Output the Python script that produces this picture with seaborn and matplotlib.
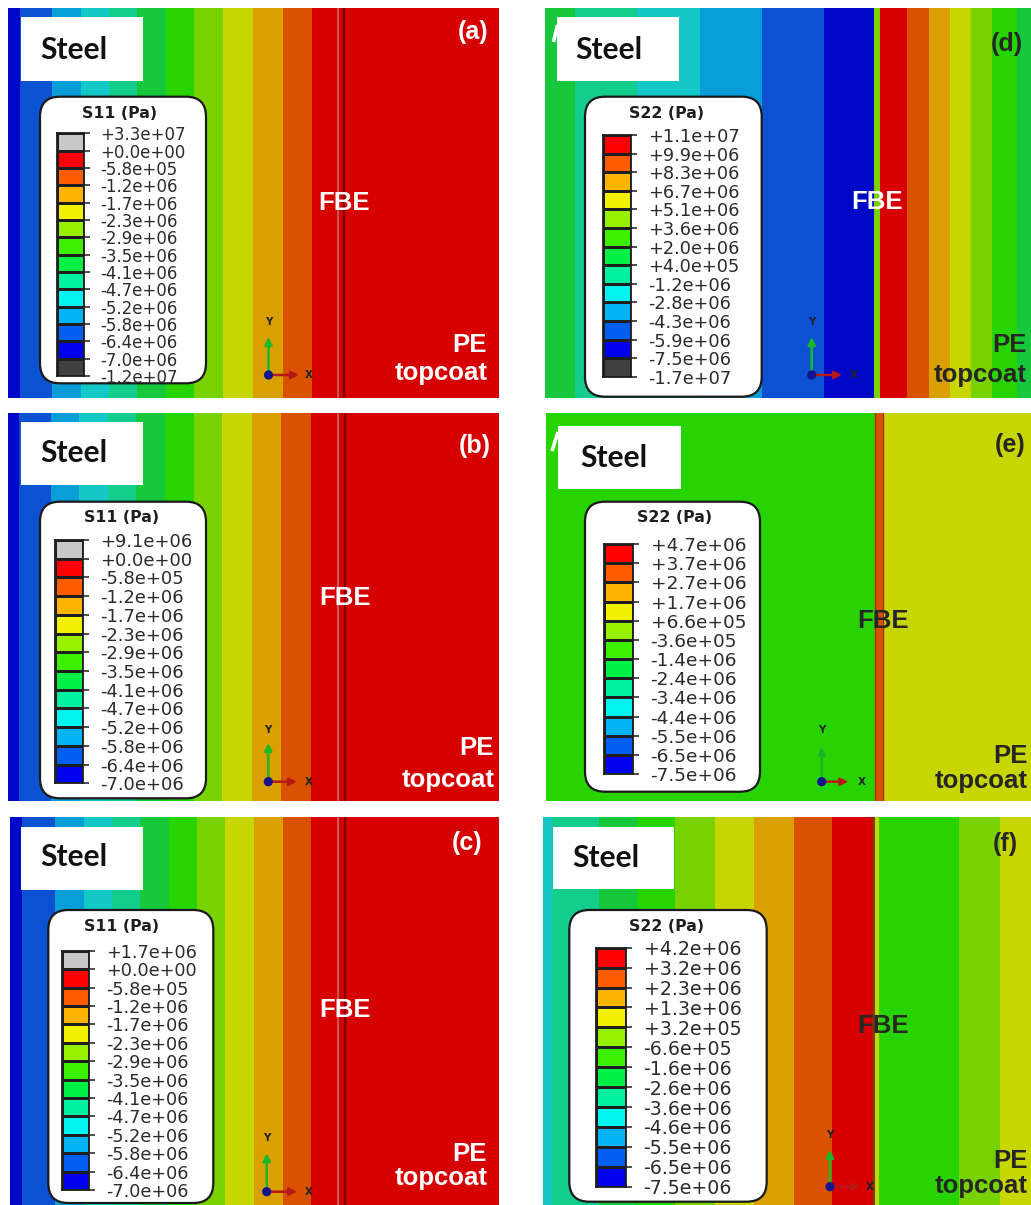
import numpy as np
import matplotlib
matplotlib.use("Agg")
import matplotlib.pyplot as plt
from matplotlib.colors import ListedColormap
from matplotlib.patches import FancyBboxPatch, Rectangle, Circle
import seaborn as sns

sns.set_style("white")
plt.rcParams["font.family"] = ["DejaVu Sans"]

W_PX, H_PX = 1031, 1205

# Contour palette: 0 = above range (grey), 1 = red ... 12 = dark blue, 13 = below range
LEGEND_COLORS = ["#c8c8c8", "#ff0000", "#ff5c00", "#ffb400", "#f2f200", "#96f000",
                 "#3cf000", "#00f046", "#00f0a0", "#00f5f0", "#00b4f5", "#005ff0",
                 "#0000f0", "#404040"]
FIELD_COLORS = ["#b4b4b4", "#d70000", "#d95200", "#d9a000", "#c8d600", "#78d200",
                "#28d400", "#18c83c", "#14cc8c", "#14c8c8", "#0a9ed8", "#0a52d2",
                "#0008c8", "#404040"]

# ---------------- S11, case (a) ----------------
a_edges = [0, 11.3, 44.7, 73, 101.3, 129.7, 158, 186.3, 215.3, 245.3, 275.3, 304.7, 491]
a_levels = [12, 11, 10, 9, 8, 7, 6, 5, 4, 3, 2, 1]
a_interfaces = [330.3, 336.5]
a_legend_levels = [0, 1, 2, 3, 4, 5, 6, 7, 8, 9, 10, 11, 12, 13]
a_ticks = ["+3.3e+07", "+0.0e+00", "-5.8e+05", "-1.2e+06", "-1.7e+06", "-2.3e+06",
           "-2.9e+06", "-3.5e+06", "-4.1e+06", "-4.7e+06", "-5.2e+06", "-5.8e+06",
           "-6.4e+06", "-7.0e+06", "-1.2e+07"]

# ---------------- S11, case (b) ----------------
b_edges = [0, 10.3, 43.7, 71.3, 100.3, 128.7, 157, 186.3, 214.7, 244.3, 273.7, 303, 491]
b_levels = [12, 11, 10, 9, 8, 7, 6, 5, 4, 3, 2, 1]
b_interfaces = [330.3, 337]
b_legend_levels = [0, 1, 2, 3, 4, 5, 6, 7, 8, 9, 10, 11, 12]
b_ticks = ["+9.1e+06", "+0.0e+00", "-5.8e+05", "-1.2e+06", "-1.7e+06", "-2.3e+06",
           "-2.9e+06", "-3.5e+06", "-4.1e+06", "-4.7e+06", "-5.2e+06", "-5.8e+06",
           "-6.4e+06", "-7.0e+06"]

# ---------------- S11, case (c) ----------------
c_edges = [0, 11.7, 45, 73.3, 101.7, 130, 158.3, 186.7, 215, 243.3, 272.7, 301, 489]
c_levels = [12, 11, 10, 9, 8, 7, 6, 5, 4, 3, 2, 1]
c_interfaces = [328.3, 335]
c_legend_levels = [0, 1, 2, 3, 4, 5, 6, 7, 8, 9, 10, 11, 12]
c_ticks = ["+1.7e+06", "+0.0e+00", "-5.8e+05", "-1.2e+06", "-1.7e+06", "-2.3e+06",
           "-2.9e+06", "-3.5e+06", "-4.1e+06", "-4.7e+06", "-5.2e+06", "-5.8e+06",
           "-6.4e+06", "-7.0e+06"]

# ---------------- S22, case (d) ----------------
d_edges = [0, 30, 91.7, 154.3, 216.7, 279, 328.3, 335, 361.7, 383.3, 404.3, 425.7,
           446.7, 471.7, 486]
d_levels = [7, 8, 9, 10, 11, 12, 5, 1, 2, 3, 4, 5, 6, 7]
d_interfaces = []
d_legend_levels = [1, 2, 3, 4, 5, 6, 7, 8, 9, 10, 11, 12, 13]
d_ticks = ["+1.1e+07", "+9.9e+06", "+8.3e+06", "+6.7e+06", "+5.1e+06", "+3.6e+06",
           "+2.0e+06", "+4.0e+05", "-1.2e+06", "-2.8e+06", "-4.3e+06", "-5.9e+06",
           "-7.5e+06", "-1.7e+07"]

# ---------------- S22, case (e) ----------------
e_edges = [0, 329, 337.3, 485]
e_levels = [6, 2, 4]
e_interfaces = [329, 337.3]
e_legend_levels = [1, 2, 3, 4, 5, 6, 7, 8, 9, 10, 11, 12]
e_ticks = ["+4.7e+06", "+3.7e+06", "+2.7e+06", "+1.7e+06", "+6.6e+05", "-3.6e+05",
           "-1.4e+06", "-2.4e+06", "-3.4e+06", "-4.4e+06", "-5.5e+06", "-6.5e+06",
           "-7.5e+06"]

# ---------------- S22, case (f) ----------------
f_edges = [0, 8.7, 55.3, 93.7, 132, 172, 210.3, 250.3, 288.7, 329.5, 336, 415.3, 457, 488]
f_levels = [9, 8, 7, 6, 5, 4, 3, 2, 1, 4, 6, 5, 4]
f_interfaces = [330.5]
f_legend_levels = [1, 2, 3, 4, 5, 6, 7, 8, 9, 10, 11, 12]
f_ticks = ["+4.2e+06", "+3.2e+06", "+2.3e+06", "+1.3e+06", "+3.2e+05", "-6.6e+05",
           "-1.6e+06", "-2.6e+06", "-3.6e+06", "-4.6e+06", "-5.5e+06", "-6.5e+06",
           "-7.5e+06"]

# Page layout (pixel boxes: left, top, right, bottom) and annotation styling
LAYOUT = {
    "a": dict(rect=(8, 8, 499, 398), data=(a_edges, a_levels, a_interfaces, a_legend_levels, a_ticks),
              title="S11 (Pa)", box=(40, 96.7, 206, 383.3), bar=(57.3, 133.3, 84, 376), fs=12.0, pad=7.2,
              title_xy=(120, 114), steel=(20.7, 17.3, 143.3, 80.7), steel_txt=(40.7, 59.3),
              tag=(473.3, 32.5), fbe=(344, 210), pe=(487, 352.3), top=(487.3, 380),
              triad=(268.5, 375, 337, 299, 322, 308.5), light=(True, True, True, True),
              iface_style=[("#c46a6a", 1.2), ("#780000", 1.6)]),
    "b": dict(rect=(8, 413, 499, 801), data=(b_edges, b_levels, b_interfaces, b_legend_levels, b_ticks),
              title="S11 (Pa)", box=(40, 501.7, 206, 798.3), bar=(55, 540, 82.7, 783.3), fs=12.9, pad=8.0,
              title_xy=(121.7, 518), steel=(20.7, 421.7, 143.3, 485), steel_txt=(40.7, 461.5),
              tag=(475, 445.8), fbe=(344.7, 605), pe=(493.3, 755), top=(495, 786.7),
              triad=(268.3, 781.7, 743, 297, 730, 308.3), light=(True, True, True, True),
              iface_style=[("#c46a6a", 1.2), ("#780000", 1.6)]),
    "c": dict(rect=(10, 817, 499, 1205), data=(c_edges, c_levels, c_interfaces, c_legend_levels, c_ticks),
              title="S11 (Pa)", box=(48.3, 910, 213.3, 1203), bar=(61.7, 950.7, 89.3, 1190), fs=12.7, pad=8.0,
              title_xy=(121.7, 926.7), steel=(20.7, 826.7, 143.3, 890), steel_txt=(40.7, 866.5),
              tag=(466.7, 843.3), fbe=(344.7, 1016.7), pe=(486.7, 1161), top=(487.3, 1185),
              triad=(266.7, 1191.7, 1153.3, 297, 1138.3, 308.3), light=(True, True, True, True),
              iface_style=[("#c46a6a", 1.2), ("#780000", 1.6)]),
    "d": dict(rect=(545, 8, 1031, 398), data=(d_edges, d_levels, d_interfaces, d_legend_levels, d_ticks),
              title="S22 (Pa)", box=(585, 96.7, 761.7, 396.7), bar=(602.7, 135, 630.7, 376.7), fs=12.8, pad=8.0,
              title_xy=(666.7, 114), steel=(556.7, 17.3, 679.3, 81), steel_txt=(575, 59.3),
              tag=(1006.5, 44.2), fbe=(877.5, 209.3), pe=(1027, 351.7), top=(1027, 381.7),
              triad=(811.7, 375, 337, 842, 321.7, 853.3), light=(False, True, False, False),
              sliver=((553.5, 42), (557.5, 25)), iface_style=[]),
    "e": dict(rect=(546, 413, 1031, 801), data=(e_edges, e_levels, e_interfaces, e_legend_levels, e_ticks),
              title="S22 (Pa)", box=(585, 501.7, 760, 791.7), bar=(604, 544, 633.3, 774), fs=13.3, pad=8.0,
              title_xy=(675, 518), steel=(558.3, 426, 680.7, 489.3), steel_txt=(580, 466.7),
              tag=(1010.5, 445), fbe=(883.3, 628.3), pe=(1028, 763.3), top=(1028, 788.3),
              triad=(821.7, 781.7, 746.7, 848.3, 730, 861.7), light=(False, False, False, False),
              sliver=((552, 451), (558, 432)), iface_style=[("#a83000", 1.0), ("#a83000", 1.0)]),
    "f": dict(rect=(543, 817, 1031, 1205), data=(f_edges, f_levels, f_interfaces, f_legend_levels, f_ticks),
              title="S22 (Pa)", box=(569.3, 910, 766.7, 1201.7), bar=(596, 947.7, 626, 1186.7), fs=13.7, pad=8.2,
              title_xy=(666.7, 926.7), steel=(552.7, 826.7, 674, 889), steel_txt=(572.7, 866.7),
              tag=(1005, 844), fbe=(883.3, 1033.3), pe=(1028, 1167.7), top=(1028, 1193.3),
              triad=(830, 1186.7, 1150, 860, 1135, 870), light=(False, False, False, False),
              iface_style=[("#5a3a00", 1.3)]),
}

field_cmap = ListedColormap(FIELD_COLORS)
legend_cmap = ListedColormap(LEGEND_COLORS)
NLEV = len(FIELD_COLORS)
STEP = 0.5
DARK = "#262626"

fig = plt.figure(figsize=(W_PX / 100, H_PX / 100), dpi=100)
fig.patch.set_facecolor("white")


def px_axes(l, t, r, b):
    return fig.add_axes([l / W_PX, 1 - b / H_PX, (r - l) / W_PX, (b - t) / H_PX])


# Contour fields: vertical bands through the coating cross-section
for key, lay in LAYOUT.items():
    edges, levels, interfaces, _, _ = lay["data"]
    ax = px_axes(*lay["rect"])
    xs = np.arange(edges[0], edges[-1], STEP) + STEP / 2
    idx = np.clip(np.searchsorted(edges, xs, side="right") - 1, 0, len(levels) - 1)
    grid = np.tile(np.asarray(levels)[idx], (2, 1))
    sns.heatmap(grid, cmap=field_cmap, vmin=-0.5, vmax=NLEV - 0.5, cbar=False,
                xticklabels=False, yticklabels=False, ax=ax)
    for pos, (col, lw) in zip(interfaces, lay["iface_style"]):
        ax.axvline((pos - edges[0]) / STEP, color=col, lw=lw)
    ax.set_xticks([])
    ax.set_yticks([])

# Overlay in page pixels for boxes, labels and triads
ov = fig.add_axes([0, 0, 1, 1])
ov.set_xlim(0, W_PX)
ov.set_ylim(H_PX, 0)
ov.axis("off")

label_font = dict(family="Liberation Sans", weight="bold")

for key, lay in LAYOUT.items():
    _, _, _, leg_levels, ticks = lay["data"]
    light_tag, light_fbe, light_pe, _ = lay["light"]

    # material tag
    sl, st, sr, sb = lay["steel"]
    ov.add_patch(Rectangle((sl, st), sr - sl, sb - st, fc="white", ec="none"))
    if "sliver" in lay:
        (x0, y0), (x1, y1) = lay["sliver"]
        ov.plot([x0, x1], [y0, y1], color="white", lw=2.6, solid_capstyle="butt")
    ov.text(*lay["steel_txt"], "Steel", family="Lato", weight="bold", fontsize=21.5,
            color="#111111", ha="left", va="baseline")

    # panel letter and layer names
    ov.text(*lay["tag"], f"({key})", color="white" if light_tag else DARK, fontsize=18,
            ha="center", va="center", **label_font)
    ov.text(*lay["fbe"], "FBE", color="white" if light_fbe else DARK, fontsize=18.5,
            ha="center", va="baseline", **label_font)
    ov.text(*lay["pe"], "PE", color="white" if light_pe else DARK, fontsize=18.5,
            ha="right", va="baseline", **label_font)
    ov.text(*lay["top"], "topcoat", color="white" if light_pe else DARK, fontsize=18.5,
            ha="right", va="baseline", **label_font)

    # legend frame and title
    bl, bt, br, bb = lay["box"]
    ov.add_patch(FancyBboxPatch((bl, bt), br - bl, bb - bt,
                                boxstyle="round,pad=0,rounding_size=20",
                                fc="white", ec="#1a1a1a", lw=1.6))
    ov.text(*lay["title_xy"], lay["title"], fontsize=11.3, weight="bold", color="#1e1e1e",
            ha="center", va="center")

    # coordinate triad
    ox, oy, ytip, xtip, ylab, xlab = lay["triad"]
    ov.annotate("", xy=(ox, ytip), xytext=(ox, oy),
                arrowprops=dict(arrowstyle="-|>", color="#18b828", lw=1.8, mutation_scale=11,
                                shrinkA=0, shrinkB=0))
    ov.annotate("", xy=(xtip, oy), xytext=(ox, oy),
                arrowprops=dict(arrowstyle="-|>", color="#b81818", lw=1.8, mutation_scale=11,
                                shrinkA=0, shrinkB=0))
    ov.add_patch(Circle((ox, oy), 4.6, fc="#14148c", ec="none", zorder=5))
    ov.text(ox, ylab, "Y", fontsize=7.5, weight="bold", color="#222222", ha="center", va="center")
    ov.text(xlab, oy, "X", fontsize=7.5, weight="bold", color="#222222", ha="center", va="center")

# Legend colour bars with their contour limits
for key, lay in LAYOUT.items():
    _, _, _, leg_levels, ticks = lay["data"]
    cax = px_axes(*lay["bar"])
    sns.heatmap(np.asarray(leg_levels)[:, None], cmap=legend_cmap, vmin=-0.5, vmax=NLEV - 0.5,
                cbar=False, linewidths=1.0, linecolor="#1e1e1e",
                xticklabels=False, yticklabels=False, ax=cax)
    for s in cax.spines.values():
        s.set_visible(True)
        s.set_color("#1e1e1e")
        s.set_linewidth(1.3)
    cax.yaxis.tick_right()
    cax.set_yticks(np.arange(len(ticks)))
    cax.set_yticklabels(ticks, rotation=0)
    cax.set_xticks([])
    cax.tick_params(axis="y", which="both", left=False, right=True, length=4.4, width=1.1,
                    color="#1e1e1e", pad=lay["pad"], labelsize=lay["fs"], labelcolor="#2b2b2b")

fig.savefig("out.png", dpi=100, facecolor="white")
